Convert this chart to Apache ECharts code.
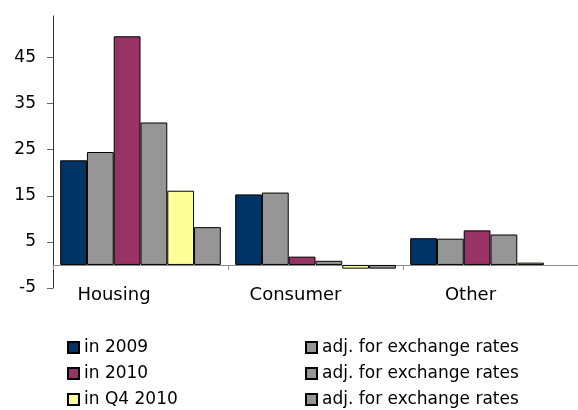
<!DOCTYPE html>
<html>
<head>
<meta charset="utf-8">
<script src="https://cdn.jsdelivr.net/npm/echarts@6/dist/echarts.min.js"></script>
<style>
  html, body { margin: 0; padding: 0; background: #fff; }
  #main { width: 578px; height: 410px; }
</style>
</head>
<body>
<div id="main"></div>
<script>
// categories and values
var categories = ['Housing', 'Consumer', 'Other'];
var in2009   = [22.7, 15.3, 5.8];
var adj2009  = [24.5, 15.7, 5.7];
var in2010   = [49.6, 1.8, 7.5];
var adj2010  = [30.9, 0.9, 6.6];
var inQ42010 = [16.1, -0.8, 0.5];
var adjQ4    = [8.2, -0.8, null];
var yTicks   = { min: -5, max: 54, interval: 10 };

var chart = echarts.init(document.getElementById('main'));

var font = 'DejaVu Sans';
var adjLabel = 'adj. for exchange rates';

function bar(name, data, color) {
    return {
        name: name,
        type: 'bar',
        data: data,
        barGap: 0,
        barCategoryGap: '8.2%',
        itemStyle: { color: color, borderColor: '#000', borderWidth: 1 }
    };
}

var legendBase = {
    orient: 'vertical', top: 338, padding: 0,
    itemWidth: 11, itemHeight: 11, itemGap: 7, itemTextGap: 6,
    icon: 'rect',
    textStyle: { fontFamily: font, fontSize: 17, color: '#000', lineHeight: 19 }
};

var option = {
    animation: false,
    grid: { left: 53, right: -6, top: 16, bottom: 122 },
    legend: [
        Object.assign({}, legendBase, {
            left: 67,
            data: ['in 2009', 'in 2010', 'in Q4 2010']
        }),
        Object.assign({}, legendBase, {
            left: 305,
            formatter: function () { return adjLabel; },
            data: ['adj1', 'adj2', 'adj3']
        })
    ],
    xAxis: {
        type: 'category',
        data: categories,
        axisLine: { onZero: true, lineStyle: { color: '#8c8c8c', width: 1 } },
        axisTick: { show: true, length: 5, lineStyle: { color: '#8c8c8c' } },
        axisLabel: {
            margin: -2,
            fontFamily: font, fontSize: 18, color: '#000',
            formatter: function (v) {
                return v === 'Housing' ? '{h|' + v + '}' : '{o|' + v + '}';
            },
            rich: {
                h: { fontFamily: font, fontSize: 18, color: '#000', padding: [0, 53, 0, 0] },
                o: { fontFamily: font, fontSize: 18, color: '#000', padding: [0, 40, 0, 0] }
            }
        },
        splitLine: { show: false }
    },
    yAxis: {
        type: 'value',
        min: yTicks.min,
        max: yTicks.max,
        interval: yTicks.interval,
        axisLine: { show: true, lineStyle: { color: '#333', width: 1 } },
        axisTick: { show: true, length: 6, lineStyle: { color: '#666' } },
        axisLabel: {
            margin: 17,
            fontFamily: font, fontSize: 17, color: '#000',
            showMaxLabel: false
        },
        splitLine: { show: false }
    },
    series: [
        bar('in 2009', in2009, '#003366'),
        bar('adj1', adj2009, '#969696'),
        bar('in 2010', in2010, '#993366'),
        bar('adj2', adj2010, '#969696'),
        bar('in Q4 2010', inQ42010, '#ffff99'),
        bar('adj3', adjQ4, '#969696')
    ]
};

chart.setOption(option);
</script>
</body>
</html>
